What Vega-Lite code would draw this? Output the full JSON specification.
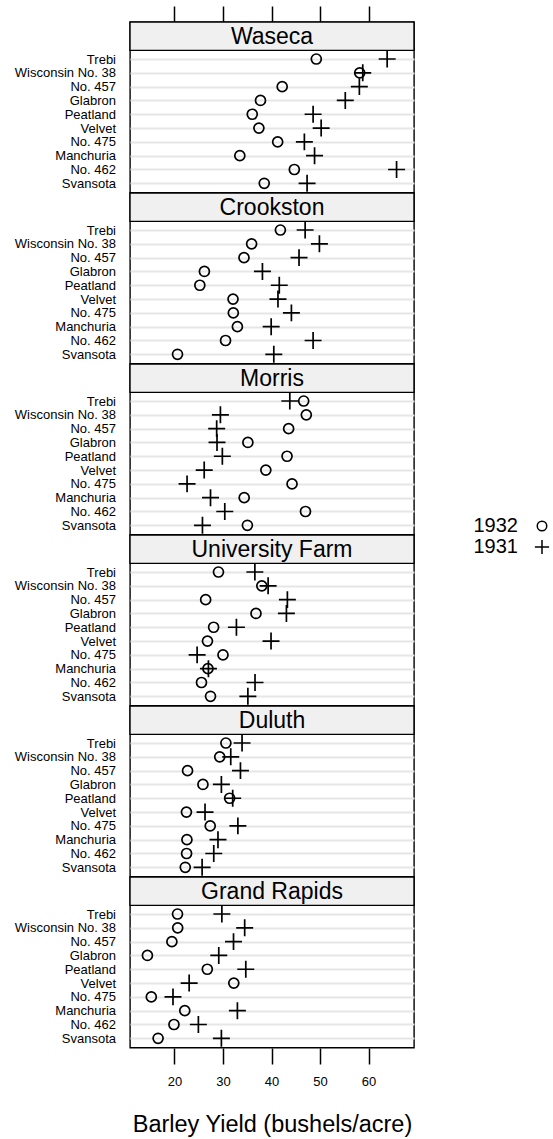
{
  "$schema": "https://vega.github.io/schema/vega-lite/v6.json",
  "padding": {"left": 13, "top": 5, "right": 5, "bottom": 5},
  "background": "white",
  "bounds": "flush",
  "config": {
    "font": "Liberation Sans",
    "view": {"stroke": "black", "strokeWidth": 1.4},
    "axis": {"labelColor": "black", "titleColor": "black", "labelFont": "Liberation Sans", "titleFont": "Liberation Sans"}
  },
  "data": {"values": [
    {"site":"Waseca","variety":"Trebi","year":1931,"yield":63.83},
    {"site":"Waseca","variety":"Wisconsin No. 38","year":1931,"yield":58.8},
    {"site":"Waseca","variety":"No. 457","year":1931,"yield":58.1},
    {"site":"Waseca","variety":"Glabron","year":1931,"yield":55.2},
    {"site":"Waseca","variety":"Peatland","year":1931,"yield":48.57},
    {"site":"Waseca","variety":"Velvet","year":1931,"yield":50.23},
    {"site":"Waseca","variety":"No. 475","year":1931,"yield":46.77},
    {"site":"Waseca","variety":"Manchuria","year":1931,"yield":48.87},
    {"site":"Waseca","variety":"No. 462","year":1931,"yield":65.77},
    {"site":"Waseca","variety":"Svansota","year":1931,"yield":47.33},
    {"site":"Waseca","variety":"Trebi","year":1932,"yield":49.23},
    {"site":"Waseca","variety":"Wisconsin No. 38","year":1932,"yield":58.17},
    {"site":"Waseca","variety":"No. 457","year":1932,"yield":42.2},
    {"site":"Waseca","variety":"Glabron","year":1932,"yield":37.73},
    {"site":"Waseca","variety":"Peatland","year":1932,"yield":36.03},
    {"site":"Waseca","variety":"Velvet","year":1932,"yield":37.4},
    {"site":"Waseca","variety":"No. 475","year":1932,"yield":41.27},
    {"site":"Waseca","variety":"Manchuria","year":1932,"yield":33.47},
    {"site":"Waseca","variety":"No. 462","year":1932,"yield":44.7},
    {"site":"Waseca","variety":"Svansota","year":1932,"yield":38.5},
    {"site":"Crookston","variety":"Trebi","year":1931,"yield":46.93},
    {"site":"Crookston","variety":"Wisconsin No. 38","year":1931,"yield":49.87},
    {"site":"Crookston","variety":"No. 457","year":1931,"yield":45.67},
    {"site":"Crookston","variety":"Glabron","year":1931,"yield":38.13},
    {"site":"Crookston","variety":"Peatland","year":1931,"yield":41.6},
    {"site":"Crookston","variety":"Velvet","year":1931,"yield":41.33},
    {"site":"Crookston","variety":"No. 475","year":1931,"yield":44.1},
    {"site":"Crookston","variety":"Manchuria","year":1931,"yield":39.93},
    {"site":"Crookston","variety":"No. 462","year":1931,"yield":48.57},
    {"site":"Crookston","variety":"Svansota","year":1931,"yield":40.47},
    {"site":"Crookston","variety":"Trebi","year":1932,"yield":41.83},
    {"site":"Crookston","variety":"Wisconsin No. 38","year":1932,"yield":35.9},
    {"site":"Crookston","variety":"No. 457","year":1932,"yield":34.33},
    {"site":"Crookston","variety":"Glabron","year":1932,"yield":26.17},
    {"site":"Crookston","variety":"Peatland","year":1932,"yield":25.23},
    {"site":"Crookston","variety":"Velvet","year":1932,"yield":32.07},
    {"site":"Crookston","variety":"No. 475","year":1932,"yield":32.13},
    {"site":"Crookston","variety":"Manchuria","year":1932,"yield":32.97},
    {"site":"Crookston","variety":"No. 462","year":1932,"yield":30.53},
    {"site":"Crookston","variety":"Svansota","year":1932,"yield":20.63},
    {"site":"Morris","variety":"Trebi","year":1931,"yield":43.77},
    {"site":"Morris","variety":"Wisconsin No. 38","year":1931,"yield":29.47},
    {"site":"Morris","variety":"No. 457","year":1931,"yield":28.7},
    {"site":"Morris","variety":"Glabron","year":1931,"yield":28.77},
    {"site":"Morris","variety":"Peatland","year":1931,"yield":29.87},
    {"site":"Morris","variety":"Velvet","year":1931,"yield":26.13},
    {"site":"Morris","variety":"No. 475","year":1931,"yield":22.6},
    {"site":"Morris","variety":"Manchuria","year":1931,"yield":27.43},
    {"site":"Morris","variety":"No. 462","year":1931,"yield":30.37},
    {"site":"Morris","variety":"Svansota","year":1931,"yield":25.77},
    {"site":"Morris","variety":"Trebi","year":1932,"yield":46.63},
    {"site":"Morris","variety":"Wisconsin No. 38","year":1932,"yield":47.17},
    {"site":"Morris","variety":"No. 457","year":1932,"yield":43.53},
    {"site":"Morris","variety":"Glabron","year":1932,"yield":35.13},
    {"site":"Morris","variety":"Peatland","year":1932,"yield":43.2},
    {"site":"Morris","variety":"Velvet","year":1932,"yield":38.83},
    {"site":"Morris","variety":"No. 475","year":1932,"yield":44.23},
    {"site":"Morris","variety":"Manchuria","year":1932,"yield":34.37},
    {"site":"Morris","variety":"No. 462","year":1932,"yield":47.0},
    {"site":"Morris","variety":"Svansota","year":1932,"yield":35.03},
    {"site":"University Farm","variety":"Trebi","year":1931,"yield":36.57},
    {"site":"University Farm","variety":"Wisconsin No. 38","year":1931,"yield":39.3},
    {"site":"University Farm","variety":"No. 457","year":1931,"yield":43.27},
    {"site":"University Farm","variety":"Glabron","year":1931,"yield":43.07},
    {"site":"University Farm","variety":"Peatland","year":1931,"yield":32.77},
    {"site":"University Farm","variety":"Velvet","year":1931,"yield":39.9},
    {"site":"University Farm","variety":"No. 475","year":1931,"yield":24.67},
    {"site":"University Farm","variety":"Manchuria","year":1931,"yield":27.0},
    {"site":"University Farm","variety":"No. 462","year":1931,"yield":36.6},
    {"site":"University Farm","variety":"Svansota","year":1931,"yield":35.13},
    {"site":"University Farm","variety":"Trebi","year":1932,"yield":29.07},
    {"site":"University Farm","variety":"Wisconsin No. 38","year":1932,"yield":38.0},
    {"site":"University Farm","variety":"No. 457","year":1932,"yield":26.43},
    {"site":"University Farm","variety":"Glabron","year":1932,"yield":36.8},
    {"site":"University Farm","variety":"Peatland","year":1932,"yield":28.07},
    {"site":"University Farm","variety":"Velvet","year":1932,"yield":26.8},
    {"site":"University Farm","variety":"No. 475","year":1932,"yield":30.0},
    {"site":"University Farm","variety":"Manchuria","year":1932,"yield":26.9},
    {"site":"University Farm","variety":"No. 462","year":1932,"yield":25.57},
    {"site":"University Farm","variety":"Svansota","year":1932,"yield":27.43},
    {"site":"Duluth","variety":"Trebi","year":1931,"yield":33.93},
    {"site":"Duluth","variety":"Wisconsin No. 38","year":1931,"yield":31.6},
    {"site":"Duluth","variety":"No. 457","year":1931,"yield":33.6},
    {"site":"Duluth","variety":"Glabron","year":1931,"yield":29.67},
    {"site":"Duluth","variety":"Peatland","year":1931,"yield":32.0},
    {"site":"Duluth","variety":"Velvet","year":1931,"yield":26.3},
    {"site":"Duluth","variety":"No. 475","year":1931,"yield":33.07},
    {"site":"Duluth","variety":"Manchuria","year":1931,"yield":28.97},
    {"site":"Duluth","variety":"No. 462","year":1931,"yield":28.1},
    {"site":"Duluth","variety":"Svansota","year":1931,"yield":25.7},
    {"site":"Duluth","variety":"Trebi","year":1932,"yield":30.6},
    {"site":"Duluth","variety":"Wisconsin No. 38","year":1932,"yield":29.33},
    {"site":"Duluth","variety":"No. 457","year":1932,"yield":22.7},
    {"site":"Duluth","variety":"Glabron","year":1932,"yield":25.87},
    {"site":"Duluth","variety":"Peatland","year":1932,"yield":31.37},
    {"site":"Duluth","variety":"Velvet","year":1932,"yield":22.47},
    {"site":"Duluth","variety":"No. 475","year":1932,"yield":27.37},
    {"site":"Duluth","variety":"Manchuria","year":1932,"yield":22.57},
    {"site":"Duluth","variety":"No. 462","year":1932,"yield":22.5},
    {"site":"Duluth","variety":"Svansota","year":1932,"yield":22.23},
    {"site":"Grand Rapids","variety":"Trebi","year":1931,"yield":29.77},
    {"site":"Grand Rapids","variety":"Wisconsin No. 38","year":1931,"yield":34.47},
    {"site":"Grand Rapids","variety":"No. 457","year":1931,"yield":32.17},
    {"site":"Grand Rapids","variety":"Glabron","year":1931,"yield":29.13},
    {"site":"Grand Rapids","variety":"Peatland","year":1931,"yield":34.7},
    {"site":"Grand Rapids","variety":"Velvet","year":1931,"yield":23.03},
    {"site":"Grand Rapids","variety":"No. 475","year":1931,"yield":19.7},
    {"site":"Grand Rapids","variety":"Manchuria","year":1931,"yield":32.97},
    {"site":"Grand Rapids","variety":"No. 462","year":1931,"yield":24.93},
    {"site":"Grand Rapids","variety":"Svansota","year":1931,"yield":29.67},
    {"site":"Grand Rapids","variety":"Trebi","year":1932,"yield":20.63},
    {"site":"Grand Rapids","variety":"Wisconsin No. 38","year":1932,"yield":20.67},
    {"site":"Grand Rapids","variety":"No. 457","year":1932,"yield":19.47},
    {"site":"Grand Rapids","variety":"Glabron","year":1932,"yield":14.43},
    {"site":"Grand Rapids","variety":"Peatland","year":1932,"yield":26.77},
    {"site":"Grand Rapids","variety":"Velvet","year":1932,"yield":32.23},
    {"site":"Grand Rapids","variety":"No. 475","year":1932,"yield":15.23},
    {"site":"Grand Rapids","variety":"Manchuria","year":1932,"yield":22.13},
    {"site":"Grand Rapids","variety":"No. 462","year":1932,"yield":19.9},
    {"site":"Grand Rapids","variety":"Svansota","year":1932,"yield":16.63}
  ]},
  "facet": {"row": {"field": "site", "type": "nominal", "sort": ["Waseca", "Crookston", "Morris", "University Farm", "Duluth", "Grand Rapids"], "header": null}},
  "spacing": 0,
  "resolve": {"scale": {"y": "independent"}},
  "spec": {
    "width": 284,
    "height": 170.7,
    "resolve": {"scale": {"y": "independent"}},
    "layer": [
      {
        "transform": [{"aggregate": [{"op": "count", "as": "n"}], "groupby": ["site"]}],
        "mark": {"type": "rect", "fill": "#f0f0f0", "stroke": "black", "strokeWidth": 1.4},
        "encoding": {
          "x": {"datum": 10.84, "type": "quantitative", "scale": {"domain": [10.84, 69.36], "nice": false, "zero": false}, "axis": null},
          "x2": {"datum": 69.36},
          "y": {"datum": 0.834, "type": "quantitative", "scale": {"domain": [0, 1], "nice": false, "zero": false}, "axis": null},
          "y2": {"datum": 1}
        }
      },
      {
        "transform": [{"aggregate": [{"op": "count", "as": "n"}], "groupby": ["site"]}],
        "mark": {"type": "text", "fontSize": 23, "color": "black", "align": "center", "baseline": "middle", "font": "Liberation Sans"},
        "encoding": {
          "x": {"datum": 40.1, "type": "quantitative", "scale": {"domain": [10.84, 69.36], "nice": false, "zero": false}, "axis": null},
          "y": {"datum": 0.915, "type": "quantitative", "scale": {"domain": [0, 1], "nice": false, "zero": false}, "axis": null},
          "text": {"field": "site", "type": "nominal"}
        }
      },
      {
        "transform": [{"filter": "datum.year == 1932"}],
        "mark": {"type": "point", "filled": false, "strokeWidth": 1.7, "opacity": 1, "color": "black", "size": 100},
        "encoding": {
          "x": {"field": "yield", "type": "quantitative", "scale": {"domain": [10.84, 69.36], "nice": false, "zero": false},
                "axis": {"orient": "bottom", "values": [20, 30, 40, 50, 60], "grid": false, "domain": false, "tickSize": 16, "tickWidth": 1.5, "tickColor": "black", "labelFontSize": 13, "labelPadding": 11, "title": "Barley Yield (bushels/acre)", "titleFontSize": 23.5, "titleFontWeight": "normal", "titlePadding": 24}},
          "y": {"field": "variety", "type": "nominal",
                "scale": {"type": "point", "domain": ["_a", "_b", "Trebi", "Wisconsin No. 38", "No. 457", "Glabron", "Peatland", "Velvet", "No. 475", "Manchuria", "No. 462", "Svansota"], "padding": 0.68},
                "axis": {"orient": "left", "values": ["Trebi", "Wisconsin No. 38", "No. 457", "Glabron", "Peatland", "Velvet", "No. 475", "Manchuria", "No. 462", "Svansota"], "title": null, "ticks": false, "domain": false, "labelFontSize": 13, "labelPadding": 14.5, "grid": true, "gridColor": "#e6e6e6", "gridWidth": 2}},
          "shape": {"field": "year", "type": "nominal", "scale": {"domain": [1932, 1931], "range": ["circle", "M-1.5,0H1.5M0,-1.5V1.5"]},
                    "legend": {"orient": "none", "legendX": 402, "legendY": 494, "title": null, "labelFontSize": 20, "labelColor": "black", "symbolStrokeColor": "black", "symbolFillColor": "transparent", "symbolStrokeWidth": 1.5, "symbolSize": 90, "labelAlign": "right", "labelOffset": -34, "rowPadding": 0, "padding": 0}}
        }
      },
      {
        "transform": [{"filter": "datum.year == 1931"}],
        "mark": {"type": "point", "filled": false, "strokeWidth": 1.7, "opacity": 1, "color": "black", "size": 128},
        "encoding": {
          "x": {"field": "yield", "type": "quantitative", "scale": {"domain": [10.84, 69.36], "nice": false, "zero": false},
                "axis": {"orient": "top", "values": [20, 30, 40, 50, 60], "grid": false, "domain": false, "labels": false, "tickSize": 16, "tickWidth": 1.5, "tickColor": "black", "title": null}},
          "y": {"field": "variety", "type": "nominal",
                "scale": {"type": "point", "domain": ["_a", "_b", "Trebi", "Wisconsin No. 38", "No. 457", "Glabron", "Peatland", "Velvet", "No. 475", "Manchuria", "No. 462", "Svansota"], "padding": 0.68},
                "axis": null},
          "shape": {"field": "year", "type": "nominal", "scale": {"domain": [1932, 1931], "range": ["circle", "M-1.5,0H1.5M0,-1.5V1.5"]}}
        }
      }
    ]
  }
}
